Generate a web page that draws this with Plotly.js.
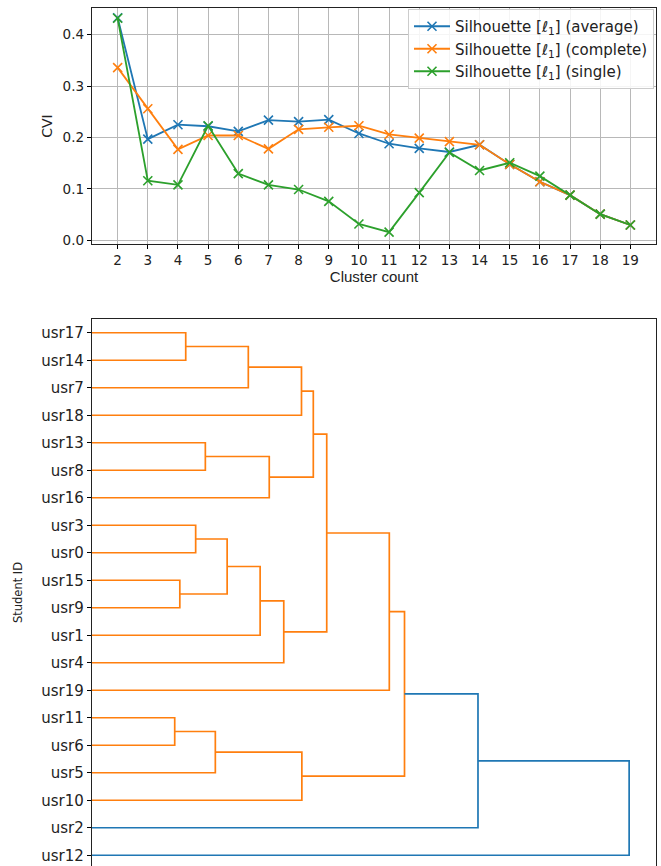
<!DOCTYPE html>
<html>
<head>
<meta charset="utf-8">
<script src="https://cdn.plot.ly/plotly-3.0.1.min.js"></script>
<style>html,body{margin:0;padding:0;background:#fff;}#plot{width:661px;height:866px;}</style>
</head>
<body>
<div id="plot"></div>
<script>
// ---- Top chart data ----
const clusterCounts = [2,3,4,5,6,7,8,9,10,11,12,13,14,15,16,17,18,19];
const silAverage  = [0.433,0.197,0.225,0.222,0.212,0.234,0.231,0.235,0.208,0.188,0.179,0.172,0.186,0.148,0.114,0.088,0.051,0.030];
const silComplete = [0.336,0.256,0.177,0.204,0.204,0.178,0.216,0.220,0.223,0.206,0.199,0.192,0.186,0.148,0.114,0.088,0.051,0.030];
const silSingle   = [0.432,0.116,0.108,0.223,0.130,0.108,0.099,0.076,0.032,0.016,0.093,0.171,0.136,0.151,0.125,0.088,0.051,0.030];
const seriesNames = ["Silhouette [ℓ<sub>1</sub>] (average)","Silhouette [ℓ<sub>1</sub>] (complete)","Silhouette [ℓ<sub>1</sub>] (single)"];

// ---- Dendrogram data (leaf order bottom -> top) ----
const leafOrder = ["usr12","usr2","usr10","usr5","usr6","usr11","usr19","usr4","usr1","usr9","usr15","usr0","usr3","usr16","usr8","usr13","usr18","usr7","usr14","usr17"];
// merges: child A, child B, linkage height (relative)
const mergeA = ["usr17","m0","m1","usr13","m3","m2","usr3","usr15","m6","m8","m9","m5","m11","usr11","m13","m14","m12","m16","m17"];
const mergeB = ["usr14","usr7","usr18","usr8","usr16","m4","usr0","usr9","m7","usr1","usr4","m10","usr19","usr6","usr5","usr10","m15","usr2","usr12"];
const mergeH = [0.1745,0.291,0.390,0.211,0.330,0.412,0.193,0.1635,0.2516,0.313,0.357,0.437,0.5535,0.154,0.2296,0.3907,0.5818,0.7186,1.0];

// build dendrogram geometry
const pos = {}, hgt = {};
leafOrder.forEach((n,i)=>{pos[n]=5+10*i; hgt[n]=0;});
const maxH = Math.max(...mergeH);
const thr = 0.7*maxH;
const orange = {x:[],y:[]}, blue = {x:[],y:[]};
mergeA.forEach((a,i)=>{
  const b = mergeB[i], h = mergeH[i];
  const tgt = h > thr ? blue : orange;
  tgt.x.push(hgt[a], h, h, hgt[b], null);
  tgt.y.push(pos[a], pos[a], pos[b], pos[b], null);
  pos["m"+i] = (pos[a]+pos[b])/2; hgt["m"+i] = h;
});

const C = ["#1f77b4","#ff7f0e","#2ca02c"];
const vals = [silAverage, silComplete, silSingle];
const traces = vals.map((v,k)=>({
  type:"scatter", mode:"lines+markers", x:clusterCounts, y:v, name:seriesNames[k],
  line:{color:C[k], width:1.8},
  marker:{symbol:"x-thin-open", size:9, line:{color:C[k], width:1.6}, color:C[k]},
  xaxis:"x", yaxis:"y"
}));
traces.push({type:"scatter", mode:"lines", x:orange.x, y:orange.y, line:{color:"#ff7f0e", width:1.7}, showlegend:false, xaxis:"x2", yaxis:"y2", hoverinfo:"skip"});
traces.push({type:"scatter", mode:"lines", x:blue.x, y:blue.y, line:{color:"#1f77b4", width:1.7}, showlegend:false, xaxis:"x2", yaxis:"y2", hoverinfo:"skip"});

const W=661, H=866;
const fx = p=>p/W, fy = p=>(H-p)/H;
const font = {family:"DejaVu Sans, sans-serif", color:"#222", size:13};
const layout = {
  width:W, height:H, margin:{l:0,r:0,t:0,b:0},
  paper_bgcolor:"#fff", plot_bgcolor:"#fff", font:font, showlegend:true,
  xaxis:{domain:[fx(92),fx(656)], range:[1.15,19.85], tickvals:clusterCounts, ticks:"outside", ticklen:4, tickcolor:"#000",
    showgrid:true, gridcolor:"#b8b8b8", gridwidth:1, showline:true, linecolor:"#222", linewidth:1.2, mirror:true, zeroline:false,
    title:{text:"Cluster count", font:{size:15, family:"Liberation Sans, Arial, sans-serif"}, standoff:3}, tickfont:{size:13.5}, anchor:"y"},
  yaxis:{domain:[fy(244),fy(8)], range:[-0.007,0.452], tickvals:[0,0.1,0.2,0.3,0.4], tickformat:".1f", ticks:"outside", ticklen:4, tickcolor:"#000",
    showgrid:true, gridcolor:"#b8b8b8", gridwidth:1, showline:true, linecolor:"#222", linewidth:1.2, mirror:true, zeroline:false,
    title:{text:"CVI", font:{size:14}, standoff:6}, tickfont:{size:13.5}, anchor:"x"},
  xaxis2:{domain:[fx(92),fx(656)], range:[0, maxH*1.05], showticklabels:false, ticks:"", showgrid:false, zeroline:false,
    showline:true, linecolor:"#222", linewidth:1.2, mirror:true, anchor:"y2"},
  yaxis2:{domain:[0,fy(319)], range:[1.1,200], tickvals:leafOrder.map((n,i)=>5+10*i), ticktext:leafOrder, ticks:"outside", ticklen:4, tickcolor:"#000",
    showgrid:false, zeroline:false, showline:true, linecolor:"#222", linewidth:1.2, mirror:true, tickfont:{size:15},
    title:{text:"Student ID", font:{size:11.5}, standoff:16}, anchor:"x2"},
  legend:{x:fx(654), xanchor:"right", y:fy(9), yanchor:"top", bgcolor:"rgba(255,255,255,0.85)", bordercolor:"#cccccc", borderwidth:1,
    font:{size:15}, tracegroupgap:0, itemwidth:36}
};
Plotly.newPlot("plot", traces, layout, {staticPlot:true});
</script>
</body>
</html>
